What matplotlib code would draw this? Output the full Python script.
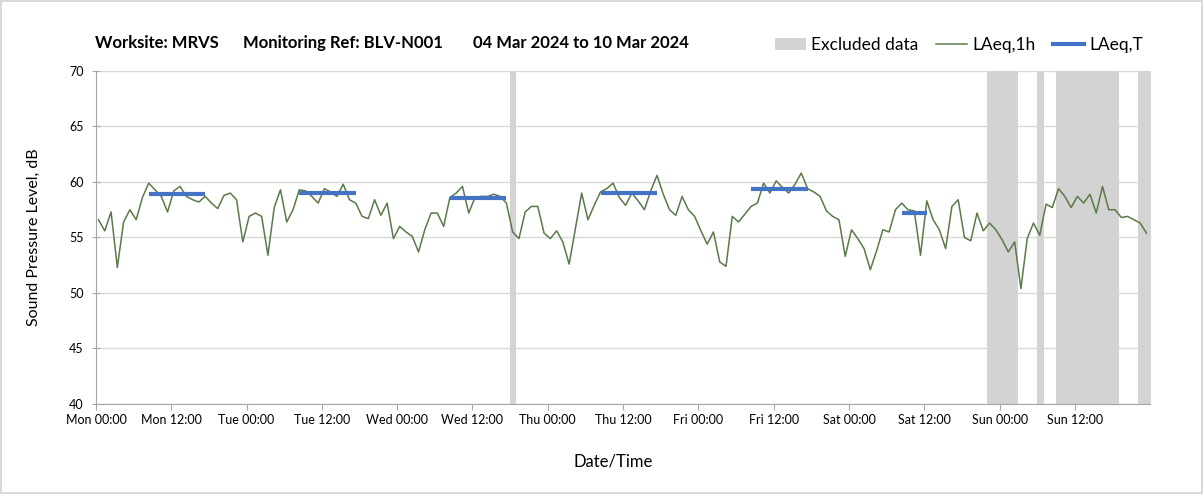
import numpy as np
import matplotlib
matplotlib.use("Agg")
import matplotlib.pyplot as plt
from matplotlib.patches import Patch
from matplotlib.lines import Line2D

plt.rcParams['font.family'] = ['Lato', 'DejaVu Sans']

# hourly LAeq,1h, Mon 00:00 .. Sun 23:00
laeq_1h = [
    56.6, 55.6, 57.3, 52.3, 56.4, 57.5, 56.6, 58.6, 59.9, 59.3, 58.7, 57.3,
    59.2, 59.6, 58.7, 58.4, 58.2, 58.7, 58.1, 57.6, 58.8, 59.0, 58.4, 54.6,
    56.9, 57.2, 56.9, 53.4, 57.7, 59.3, 56.4, 57.5, 59.3, 59.2, 58.7, 58.1,
    59.4, 59.1, 58.7, 59.8, 58.4, 58.1, 56.9, 56.7, 58.4, 57.0, 58.1, 54.9,
    56.0, 55.5, 55.1, 53.7, 55.7, 57.2, 57.2, 56.0, 58.6, 59.0, 59.6, 57.2,
    58.6, 58.7, 58.7, 58.9, 58.7, 58.1, 55.5, 54.9, 57.3, 57.8, 57.8, 55.4,
    54.9, 55.6, 54.6, 52.6, 55.8, 59.0, 56.6, 57.9, 59.1, 59.4, 59.9, 58.6,
    57.9, 59.0, 58.3, 57.5, 59.2, 60.6, 58.9, 57.5, 57.0, 58.7, 57.5, 56.9,
    55.6, 54.4, 55.5, 52.8, 52.4, 56.9, 56.4, 57.1, 57.8, 58.1, 59.9, 59.0,
    60.1, 59.5, 59.0, 59.8, 60.8, 59.4, 59.1, 58.7, 57.4, 56.9, 56.6, 53.3,
    55.7, 54.9, 54.0, 52.1, 53.8, 55.7, 55.5, 57.5, 58.1, 57.5, 57.4, 53.4,
    58.3, 56.6, 55.7, 54.0, 57.8, 58.4, 55.0, 54.7, 57.2, 55.6, 56.3, 55.7,
    54.8, 53.7, 54.6, 50.4, 54.9, 56.3, 55.2, 58.0, 57.7, 59.4, 58.7, 57.7,
    58.7, 58.1, 58.9, 57.2, 59.6, 57.5, 57.5, 56.8, 56.9, 56.6, 56.3, 55.4,
]

# LAeq,T periods (hour index start/end) and levels
t_start = [8, 32, 56, 80, 104, 128]
t_end = [17, 41, 65, 89, 113, 132]
laeq_t = [58.9, 59.0, 58.6, 59.0, 59.4, 57.2]

# excluded data periods (hours)
excl_start = [66, 142, 150, 153, 166]
excl_end = [67, 147, 151, 163, 168]

days = ['Mon', 'Tue', 'Wed', 'Thu', 'Fri', 'Sat', 'Sun']
tick_labels = [f'{d} {t}' for d in days for t in ('00:00', '12:00')]

line_col = '#5a7a4a'
blue = '#4472C4'
grey = '#d3d3d3'

fig = plt.figure(figsize=(12.03, 4.94), dpi=100)
fig.patch.set_edgecolor('#d9d9d9')
fig.patch.set_linewidth(1.5)
ax = fig.add_axes([0.0798, 0.1822, 0.8763, 0.6741])

for s, e in zip(excl_start, excl_end):
    ax.axvspan(s, e, color=grey, lw=0, zorder=1)

x = np.arange(len(laeq_1h)) + 0.4
ax.plot(x, laeq_1h, color=line_col, lw=1.1, zorder=3)
for s, e, v in zip(t_start, t_end, laeq_t):
    ax.plot([s + 0.4, e + 0.4], [v, v], color=blue, lw=3, solid_capstyle='butt', zorder=4)

ax.set_xlim(0, 168)
ax.set_ylim(40, 70)
ax.set_yticks(range(40, 71, 5))
ax.set_xticks(range(0, 168, 12))
ax.set_xticklabels(tick_labels, fontsize=9)
ax.tick_params(axis='y', labelsize=9, direction='inout', length=6, pad=6, color='#a6a6a6')
ax.tick_params(axis='x', direction='out', length=4, color='#a6a6a6')
ax.set_xticks(range(24, 169, 24), minor=True)
ax.tick_params(axis='x', which='minor', length=0)
ax.grid(axis='y', color='#d9d9d9', lw=1, zorder=0)
ax.grid(axis='x', which='minor', color='#d9d9d9', lw=1, zorder=0)
ax.set_axisbelow(True)
ax.spines['top'].set_visible(False)
ax.spines['right'].set_color('#d9d9d9')
for sp in ('left', 'bottom'):
    ax.spines[sp].set_color('#a6a6a6')

ax.set_ylabel('Sound Pressure Level, dB', fontsize=11.5, labelpad=20)
fig.text(0.51, 0.065, 'Date/Time', ha='center', va='center', fontsize=12)

fig.text(0.079, 0.912, 'Worksite: MRVS', fontsize=12, fontweight='bold', va='center')
fig.text(0.202, 0.912, 'Monitoring Ref: BLV-N001', fontsize=12, fontweight='bold', va='center')
fig.text(0.393, 0.912, '04 Mar 2024 to 10 Mar 2024', fontsize=12, fontweight='bold', va='center')

handles = [Patch(facecolor=grey, edgecolor='none'),
           Line2D([], [], color=line_col, lw=1.1),
           Line2D([], [], color=blue, lw=3)]
fig.legend(handles, ['Excluded data', 'LAeq,1h', 'LAeq,T'], loc='center right',
           bbox_to_anchor=(0.963, 0.908), ncol=3, frameon=False, fontsize=12.5,
           handlelength=1.8, columnspacing=1.0, handletextpad=0.3)

fig.savefig('out.png', dpi=100)
